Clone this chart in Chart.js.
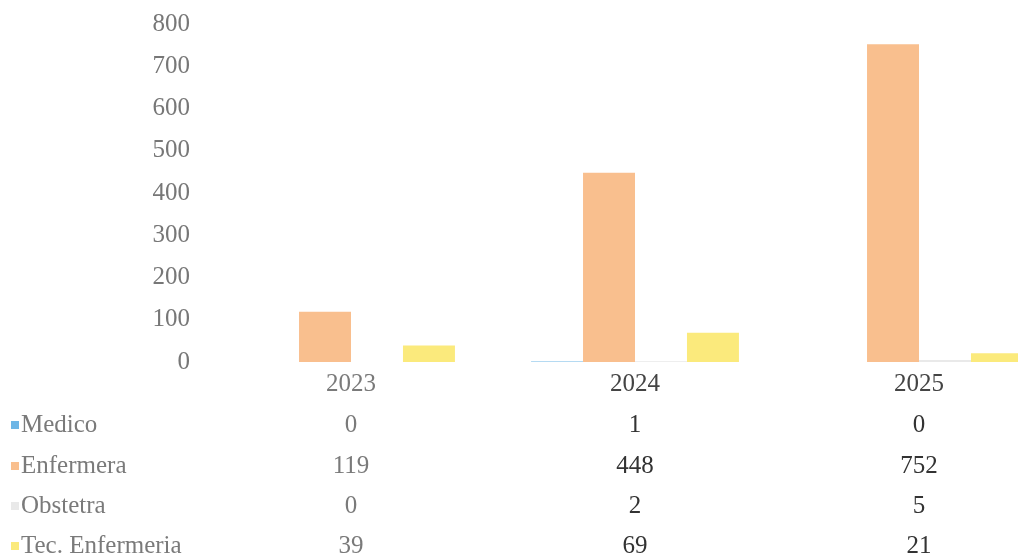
<!DOCTYPE html>
<html>
<head>
<meta charset="utf-8">
<script src="https://cdn.jsdelivr.net/npm/chart.js@4"></script>
<style>
  html, body { margin: 0; padding: 0; background: #fff; overflow: hidden; }
  #wrap { width: 1065px; height: 558px; position: relative; }
</style>
</head>
<body>
<div id="wrap"><canvas id="chart"></canvas></div>
<script>
const years = ['2023', '2024', '2025'];
const seriesNames = ['Medico', 'Enfermera', 'Obstetra', 'Tec. Enfermeria'];
const medico = [0, 1, 0];
const enfermera = [119, 448, 752];
const obstetra = [0, 2, 5];
const tecEnfermeria = [39, 69, 21];
const yTicks = [0, 100, 200, 300, 400, 500, 600, 700, 800];

const seriesValues = [medico, enfermera, obstetra, tecEnfermeria];
const seriesColors = ['#6DB6E6', '#F9BF8E', '#E9E9E9', '#FBEA7C'];
const FONT = '"Liberation Serif", "Times New Roman", serif';

// data table under the plot, like the excel one
const dataTable = {
    id: 'dataTable',
    afterDraw(chart) {
        const ctx = chart.ctx;
        const x = chart.scales.x;
        ctx.save();
        ctx.font = '25px ' + FONT;
        ctx.textBaseline = 'middle';

        ctx.textAlign = 'center';
        years.forEach((yr, i) => {
            ctx.fillStyle = i === 0 ? '#7a7a7a' : '#444';
            ctx.fillText(yr, x.getPixelForValue(i), 384);
        });

        const rowY = [425, 466, 506, 546];
        seriesNames.forEach((name, r) => {
            ctx.fillStyle = seriesColors[r];
            ctx.fillRect(11, rowY[r] - 4, 8, 8);
            ctx.fillStyle = '#7a7a7a';
            ctx.textAlign = 'left';
            ctx.fillText(name, 21, rowY[r]);
            ctx.textAlign = 'center';
            seriesValues[r].forEach((v, i) => {
                ctx.fillStyle = i === 0 ? '#7a7a7a' : '#333';
                ctx.fillText(String(v), x.getPixelForValue(i), rowY[r]);
            });
        });
        ctx.restore();
    }
};

new Chart(document.getElementById('chart'), {
    type: 'bar',
    data: {
        labels: years,
        datasets: seriesNames.map((name, i) => ({
            label: name,
            data: seriesValues[i],
            backgroundColor: seriesColors[i],
            borderWidth: 0,
            barPercentage: 1,
            categoryPercentage: 0.732,
        }))
    },
    options: {
        responsive: true,
        maintainAspectRatio: false,
        animation: false,
        layout: {
            padding: { top: 24, bottom: 196, left: 0, right: 4 }
        },
        scales: {
            x: {
                display: false,
            },
            y: {
                min: 0,
                max: 800,
                afterBuildTicks: (scale) => {
                    scale.ticks = yTicks.map(v => ({ value: v }));
                },
                afterFit: (scale) => {
                    scale.width = 209;
                    scale.paddingTop = 0;
                    scale.paddingBottom = 0;
                },
                grid: { display: false, drawTicks: false },
                border: { display: false },
                ticks: {
                    padding: 19,
                    color: '#777',
                    font: { family: FONT, size: 25 },
                }
            }
        },
        plugins: {
            legend: { display: false },
            tooltip: { enabled: false },
        }
    },
    plugins: [dataTable]
});
</script>
</body>
</html>
